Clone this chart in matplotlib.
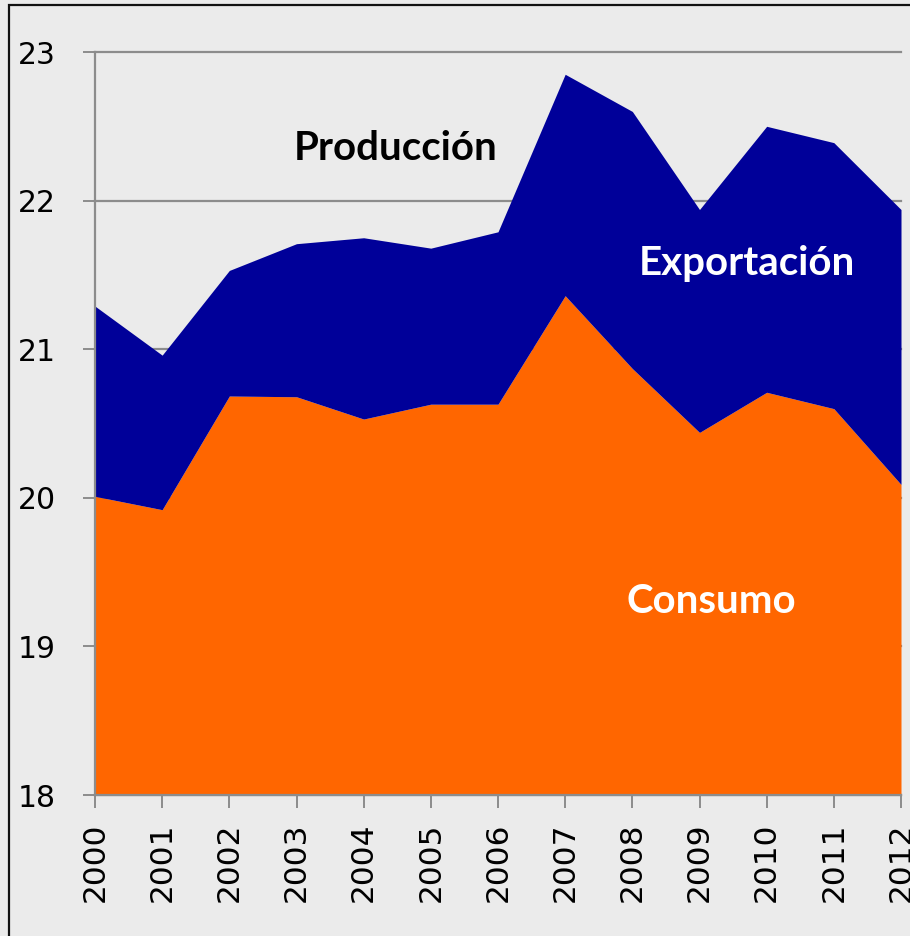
import matplotlib
matplotlib.use("Agg")
import matplotlib.pyplot as plt
from matplotlib.patches import Rectangle

years = [2000, 2001, 2002, 2003, 2004, 2005, 2006, 2007, 2008, 2009, 2010, 2011, 2012]
produccion = [21.29, 20.96, 21.53, 21.71, 21.75, 21.68, 21.79, 22.85, 22.60, 21.94, 22.50, 22.39, 21.94]
consumo = [20.01, 19.92, 20.685, 20.68, 20.53, 20.63, 20.63, 21.36, 20.87, 20.44, 20.71, 20.60, 20.09]
y_ticks = [18, 19, 20, 21, 22, 23]
labels = ["Producción", "Exportación", "Consumo"]

BG = "#ebebeb"
BLUE = "#000099"
ORANGE = "#ff6600"
GRID = "#8c8c8c"

fig = plt.figure(figsize=(9.1, 9.36), dpi=100, facecolor=BG)
ax = fig.add_axes([95/910, 1-795/936, (901-95)/910, (795-52)/936])
ax.set_facecolor(BG)

ax.fill_between(years, 18, consumo, color=ORANGE, linewidth=0, zorder=2)
ax.fill_between(years, consumo, produccion, color=BLUE, linewidth=0, zorder=2)

ax.set_xlim(2000, 2012)
ax.set_ylim(18, 23)
ax.set_xticks(years)
ax.set_xticklabels([str(y) for y in years], rotation=90, fontsize=22.5, family="DejaVu Sans")
ax.set_yticks(y_ticks)
ax.set_yticklabels([str(v) for v in y_ticks], fontsize=21.5, family="DejaVu Sans")

ax.set_axisbelow(True)
ax.grid(axis="y", color=GRID, linewidth=1.6)
for gl in ax.get_ygridlines():
    gl.set_clip_on(False)
ax.grid(axis="x", visible=False)

for s in ["top", "right"]:
    ax.spines[s].set_visible(False)
for s in ["left", "bottom"]:
    ax.spines[s].set_color(GRID)
    ax.spines[s].set_linewidth(1.6)
    ax.spines[s].set_zorder(3)

ax.tick_params(axis="both", direction="out", length=9, width=1.4, color=GRID, labelcolor="black")
ax.tick_params(axis="y", pad=19)
ax.tick_params(axis="x", pad=11)

tfam = ["Lato", "DejaVu Sans"]
fs = 29
ax.text(2004.47, 22.35, labels[0], color="black", fontsize=fs, fontweight="bold",
        family=tfam, ha="center", va="center", zorder=5)
ax.text(2009.70, 21.575, labels[1], color="white", fontsize=fs, fontweight="bold",
        family=tfam, ha="center", va="center", zorder=5)
ax.text(2009.17, 19.30, labels[2], color="white", fontsize=fs, fontweight="bold",
        family=tfam, ha="center", va="center", zorder=5)

fig.patches.append(Rectangle((8.5/910, -0.1), 1.2, 1.1 - 5.5/936 + 0.0,
                             transform=fig.transFigure, fill=False,
                             edgecolor="#111111", linewidth=1.6))

fig.savefig("out.png", dpi=100, facecolor=BG)
